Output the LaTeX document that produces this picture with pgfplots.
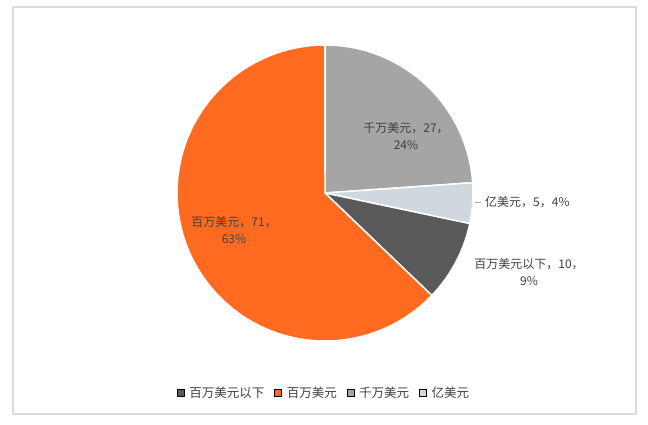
\documentclass[border=0pt]{standalone}
\usepackage{pgfplots}
\usepackage{pgfplotstable}
\pgfplotsset{compat=1.18}
\usepackage{fontspec}
\setmainfont{Noto Sans CJK SC}
\definecolor{cDark}{HTML}{595959}
\definecolor{cOrange}{HTML}{FF6A21}
\definecolor{cGray}{HTML}{A5A5A5}
\definecolor{cLight}{HTML}{CFD8DE}
\definecolor{cText}{HTML}{404040}
\definecolor{cBorder}{HTML}{DCDCDC}

\pgfplotstableread[col sep=comma]{
name,value
百万美元以下,10
百万美元,71
千万美元,27
亿美元,5
}\piedata

\begin{document}
\begin{tikzpicture}
\pgfplotstablegetelem{0}{value}\of\piedata \let\va\pgfplotsretval
\pgfplotstablegetelem{1}{value}\of\piedata \let\vb\pgfplotsretval
\pgfplotstablegetelem{2}{value}\of\piedata \let\vc\pgfplotsretval
\pgfplotstablegetelem{3}{value}\of\piedata \let\vd\pgfplotsretval
\pgfmathsetmacro\T{\va+\vb+\vc+\vd}
\pgfmathsetmacro\aC{90}
\pgfmathsetmacro\aD{\aC-\vc/\T*360}
\pgfmathsetmacro\aA{\aD-\vd/\T*360}
\pgfmathsetmacro\aB{\aA-\va/\T*360}
\pgfmathsetmacro\aE{\aB-\vb/\T*360}
\begin{axis}[
  scale only axis, width=648pt, height=425pt,
  xmin=0, xmax=648, ymin=0, ymax=425,
  hide axis, clip=false,
  legend columns=4,
  legend style={at={(0.5,0.0753)}, anchor=center, draw=none, fill=none,
    font=\fontsize{12.5}{14}\selectfont\color{cText},
    /tikz/every odd column/.append style={column sep=3pt},
    /tikz/every even column/.append style={column sep=8pt},
    inner sep=0pt},
  legend image code/.code={\fill[#1] (0pt,-3.5pt) rectangle (7pt,3.5pt);},
]
\path[fill=white] (axis cs:0,0) rectangle (axis cs:648,425);
\draw[cBorder, line width=1.2pt] (axis cs:13,11) rectangle (axis cs:636,418);

\addlegendimage{fill=cDark}\addlegendentry{百万美元以下}
\addlegendimage{fill=cOrange}\addlegendentry{百万美元}
\addlegendimage{fill=cGray}\addlegendentry{千万美元}
\addlegendimage{fill=cLight}\addlegendentry{亿美元}

\filldraw[fill=cGray, draw=white, line width=1.5pt] (axis cs:325,232) -- ++(\aC:148pt) arc[start angle=\aC, end angle=\aD, radius=148pt] -- cycle;
\filldraw[fill=cLight, draw=white, line width=1.5pt] (axis cs:325,232) -- ++(\aD:148pt) arc[start angle=\aD, end angle=\aA, radius=148pt] -- cycle;
\filldraw[fill=cDark, draw=white, line width=1.5pt] (axis cs:325,232) -- ++(\aA:148pt) arc[start angle=\aA, end angle=\aB, radius=148pt] -- cycle;
\filldraw[fill=cOrange, draw=white, line width=1.5pt] (axis cs:325,232) -- ++(\aB:148pt) arc[start angle=\aB, end angle=\aE, radius=148pt] -- cycle;

\draw[cGray, line width=0.8pt] (axis cs:475,223) -- (axis cs:481,223);
\begin{scope}[every node/.style={text=cText, font=\fontsize{12}{17}\selectfont, align=center, inner sep=0pt}]
\node at (axis cs:406,288.5) {千万美元，27，\\24\%};
\node[anchor=west] at (axis cs:485,223) {亿美元，5，4\%};
\node at (axis cs:529,153) {百万美元以下，10，\\9\%};
\node at (axis cs:234,195) {百万美元，71，\\63\%};
\end{scope}
\end{axis}
\end{tikzpicture}
\end{document}
